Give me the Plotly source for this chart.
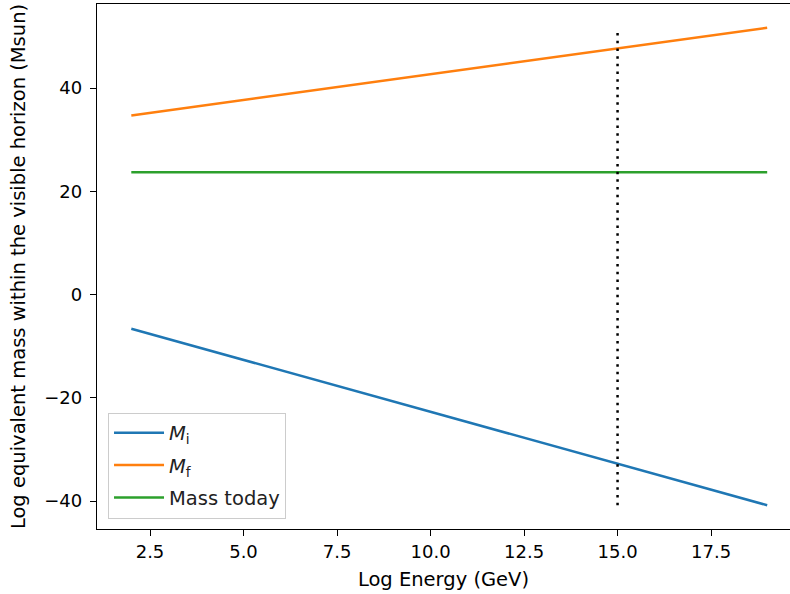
import plotly.graph_objects as go

# Data
log_energy = [2.0, 19.0]
m_initial = [-6.6, -40.8]
m_final = [34.7, 51.7]
mass_today = [23.7, 23.7]
vline_x = [15.0, 15.0]
vline_y = [-40.8, 51.0]

x_ticks = [2.5, 5.0, 7.5, 10.0, 12.5, 15.0, 17.5]
y_ticks = [-40, -20, 0, 20, 40]

FONT = "DejaVu Sans"
FS = 18
FS_LABEL = 19.5

fig = go.Figure()
fig.add_trace(go.Scatter(x=log_energy, y=m_initial, mode="lines", name="<i>M</i><sub>i</sub>",
                         line=dict(color="#1f77b4", width=2.5), legendgroup="a"))
fig.add_trace(go.Scatter(x=log_energy, y=m_final, mode="lines", name="<i>M</i><sub>f</sub>",
                         line=dict(color="#ff7f0e", width=2.5), legendgroup="b"))
fig.add_trace(go.Scatter(x=log_energy, y=mass_today, mode="lines", name="Mass today",
                         line=dict(color="#2ca02c", width=2.5), legendgroup="c"))
fig.add_trace(go.Scatter(x=vline_x, y=vline_y, mode="lines", showlegend=False,
                         line=dict(color="black", width=2.5, dash="2.5px,5.2px")))

axis_common = dict(showline=True, linecolor="black", linewidth=1.3,
                   ticks="outside", ticklen=6, tickwidth=1.3, tickcolor="black",
                   showgrid=False, zeroline=False, automargin=False,
                   tickfont=dict(family=FONT, size=FS, color="black"))

fig.update_xaxes(range=[1.083, 19.61], tickvals=x_ticks, mirror=True,
                 ticktext=[f"{v:.1f}" for v in x_ticks],
                 title=dict(text="Log Energy (GeV)", font=dict(family=FONT, size=FS_LABEL, color="black"), standoff=11),
                 **axis_common)
fig.update_yaxes(range=[-45.4, 56.3], tickvals=y_ticks, mirror=False,
                 ticktext=[("\u2212" + str(-v)) if v < 0 else str(v) for v in y_ticks],
                 ticklabelstandoff=4,
                 title=dict(text="Log equivalent mass within the visible horizon (Msun)",
                            font=dict(family=FONT, size=FS_LABEL, color="black"), standoff=13),
                 **axis_common)

fig.update_layout(
    width=790, height=594,
    margin=dict(l=97, r=0, t=4, b=65),
    paper_bgcolor="white", plot_bgcolor="white",
    font=dict(family=FONT, size=FS, color="black"),
    legend=dict(x=0.0159, y=0.02, xanchor="left", yanchor="bottom",
                bgcolor="rgba(255,255,255,0.8)", bordercolor="#cccccc", borderwidth=1,
                font=dict(family=FONT, size=FS_LABEL, color="#222222"),
                itemwidth=50, tracegroupgap=4),
)

fig.write_html("out.html", config={"displayModeBar": False},
               post_script="document.body.style.margin='0';document.body.style.overflow='hidden';")
